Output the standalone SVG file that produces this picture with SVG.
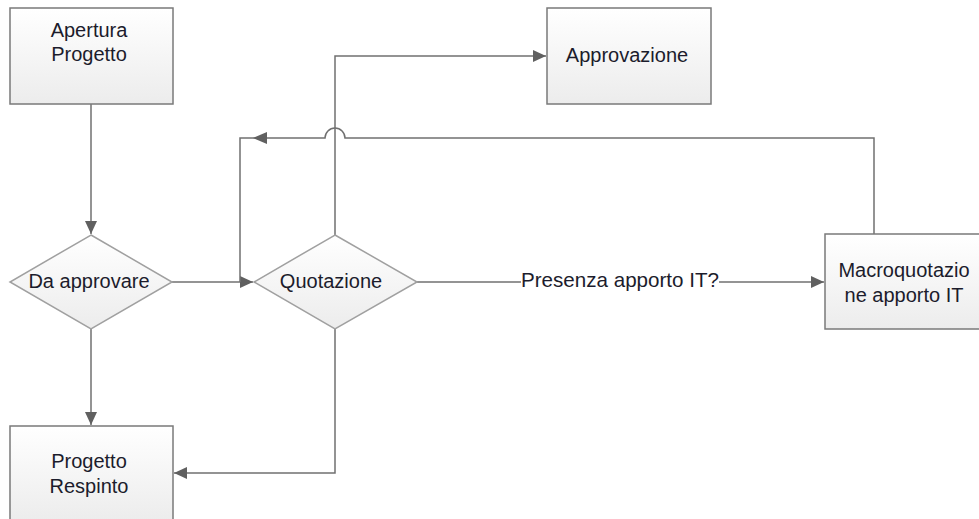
<svg xmlns="http://www.w3.org/2000/svg" width="979" height="519" viewBox="0 0 979 519">
<style>
.box{stroke:#7a7a7a;stroke-width:1.5;fill:url(#g)}
.dia{stroke:#a0a0a0;stroke-width:1.5;fill:url(#g)}
.t{font-family:"Liberation Sans",Arial,sans-serif;font-size:20px;fill:#1c1c2c;text-anchor:middle}
.c{fill:none;stroke:#707070;stroke-width:1.5}
</style>
<defs>
<linearGradient id="g" x1="0" y1="0" x2="0" y2="1">
<stop offset="0" stop-color="#ffffff"/>
<stop offset="1" stop-color="#ececec"/>
</linearGradient>
<marker id="a" markerUnits="userSpaceOnUse" markerWidth="14" markerHeight="12" refX="13" refY="6" orient="auto">
<path d="M0,0 L13,6 L0,12 z" fill="#606060"/>
</marker>
</defs>
<rect width="979" height="519" fill="#ffffff"/>
<g id="connectors">
<path class="c" d="M91,104 V234" marker-end="url(#a)"/>
<path class="c" d="M172,282 H253" marker-end="url(#a)"/>
<path class="c" d="M874,234 V138 H345 A10,10 0 0 0 325,138 H240 V282"/>
<path d="M253,138 L267,132 L267,144 z" fill="#606060"/>
<path class="c" d="M335,235 V56 H546" marker-end="url(#a)"/>
<path class="c" d="M417,282 H824" marker-end="url(#a)"/>
<path class="c" d="M91,329 V425" marker-end="url(#a)"/>
<path class="c" d="M335,329 V473 H174" marker-end="url(#a)"/>
<rect x="521" y="268" width="198" height="26" fill="#ffffff"/>
<text class="t" x="620" y="287" style="font-size:20.6px">Presenza apporto IT?</text>
</g>
<g id="apertura">
<rect class="box" x="10" y="8" width="163" height="96"/>
<text class="t" x="89" y="37">Apertura</text>
<text class="t" x="89" y="61">Progetto</text>
</g>
<g id="approvazione">
<rect class="box" x="547" y="8" width="164" height="96"/>
<text class="t" x="627" y="62">Approvazione</text>
</g>
<g id="da-approvare">
<polygon class="dia" points="91,235 172,282 91,329 10,282"/>
<text class="t" x="89" y="288">Da approvare</text>
</g>
<g id="quotazione">
<polygon class="dia" points="335,235 417,282 335,329 254,282"/>
<text class="t" x="331" y="288">Quotazione</text>
</g>
<g id="macroquotazione">
<rect class="box" x="825" y="234" width="164" height="95"/>
<text class="t" x="904" y="277">Macroquotazio</text>
<text class="t" x="904" y="302">ne apporto IT</text>
</g>
<g id="progetto-respinto">
<rect class="box" x="10" y="426" width="163" height="96"/>
<text class="t" x="89" y="468">Progetto</text>
<text class="t" x="89" y="493">Respinto</text>
</g>
</svg>
